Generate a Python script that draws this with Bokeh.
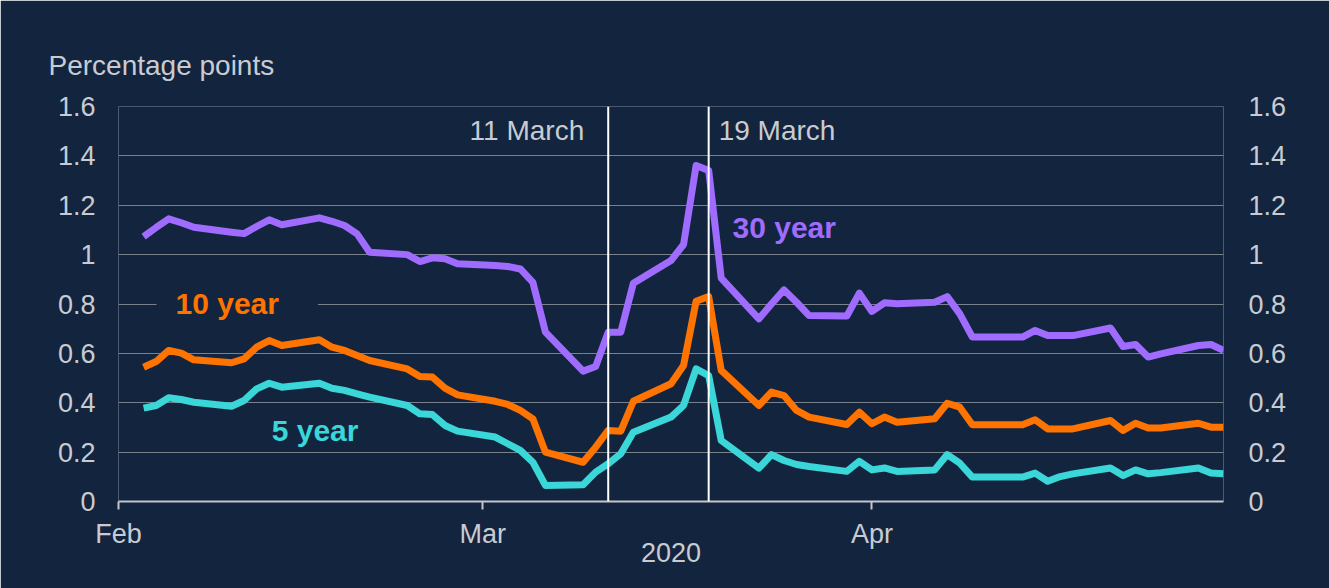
import pandas as pd
from bokeh.plotting import figure
from bokeh.models import FixedTicker, LinearAxis, Span, Label, Range1d, Title
from bokeh.embed import file_html
from bokeh.resources import INLINE

# ---- data -------------------------------------------------------------
# Every weekday from 3 Feb to 29 Apr 2020 (bank holidays carry the prior value)
dates = pd.bdate_range("2020-02-03", "2020-04-29")

year30 = [
    1.073, 1.110, 1.145, 1.129, 1.111, 1.091, 1.085, 1.114, 1.141, 1.121,
    1.149, 1.135, 1.118, 1.084, 1.010, 1.000, 0.972, 0.987, 0.983, 0.963,
    0.956, 0.952, 0.942, 0.888, 0.686, 0.528, 0.547, 0.686, 0.686, 0.884,
    0.976, 1.041, 1.361, 1.341, 0.905, 0.740, 0.800, 0.857, 0.807, 0.753,
    0.751, 0.844,
    0.770, 0.805, 0.801, 0.807, 0.830, 0.760, 0.666, 0.666, 0.666, 0.693,
    0.672, 0.672, 0.672, 0.703, 0.628, 0.636, 0.585, 0.598, 0.632, 0.636,
    0.612,
]
year10 = [
    0.544, 0.567, 0.612, 0.601, 0.574, 0.562, 0.578, 0.625, 0.652, 0.632,
    0.655, 0.625, 0.612, 0.591, 0.571, 0.537, 0.506, 0.504, 0.459, 0.432,
    0.406, 0.393, 0.369, 0.335, 0.200, 0.159, 0.220, 0.288, 0.285, 0.406,
    0.477, 0.551, 0.811, 0.830, 0.531, 0.389, 0.443, 0.429, 0.369, 0.342,
    0.312, 0.362,
    0.315, 0.342, 0.321, 0.335, 0.398, 0.382, 0.311, 0.311, 0.311, 0.331,
    0.294, 0.294, 0.294, 0.328, 0.288, 0.317, 0.298, 0.298, 0.317, 0.301,
    0.301,
]
year5 = [
    0.378, 0.389, 0.420, 0.413, 0.402, 0.386, 0.409, 0.456, 0.479, 0.463,
    0.479, 0.459, 0.450, 0.436, 0.423, 0.389, 0.355, 0.352, 0.308, 0.285,
    0.261, 0.234, 0.207, 0.159, 0.065, 0.068, 0.119, 0.153, 0.193, 0.281,
    0.342, 0.389, 0.537, 0.510, 0.247, 0.135, 0.190, 0.166, 0.150, 0.142,
    0.122, 0.163,
    0.128, 0.136, 0.122, 0.128, 0.190, 0.155, 0.099, 0.099, 0.099, 0.115,
    0.082, 0.101, 0.112, 0.136, 0.105, 0.128, 0.112, 0.117, 0.136, 0.115,
    0.112,
]

series_names = ["30 year", "10 year", "5 year"]
series_values = [year30, year10, year5]

month_ticks = ["2020-02-01", "2020-03-01", "2020-04-01"]
month_labels = ["Feb", "Mar", "Apr"]

y_ticks = [0, 0.2, 0.4, 0.6, 0.8, 1.0, 1.2, 1.4, 1.6]
y_tick_labels = ["0", "0.2", "0.4", "0.6", "0.8", "1", "1.2", "1.4", "1.6"]

event_dates = ["2020-03-11", "2020-03-19"]
event_labels = ["11 March", "19 March"]

# ---- style ------------------------------------------------------------
BG = "#13253e"
TXT = "#c8ccd2"
GRID = "#7b818b"
AXIS = "#c3c6cc"
FONT = "Liberation Sans"
COLORS = ["#a06cff", "#ff7300", "#3ad6d8"]


def ms(t):
    return pd.Timestamp(t).value / 1e6


DAY = 86400000.0
x_origin = ms("2020-02-01")

p = figure(
    width=1329, height=588,
    x_axis_type="datetime",
    x_range=Range1d(ms("2020-02-01"), ms("2020-04-29")),
    y_range=Range1d(0, 1.6),
    output_backend="svg", toolbar_location=None,
    min_border_left=118, min_border_right=106,
    min_border_top=106, min_border_bottom=87,
    background_fill_color=BG, border_fill_color=BG,
    outline_line_color=None,
)

# unit caption above the plot area
p.add_layout(Title(
    text="Percentage points", align="left", offset=-70, standoff=52,
    text_font=FONT, text_font_size="28px", text_font_style="normal",
    text_color=TXT,
), "above")

# horizontal grid only
p.xgrid.grid_line_color = None
p.ygrid.ticker = FixedTicker(ticks=y_ticks)
p.ygrid.grid_line_color = GRID
p.ygrid.grid_line_width = 1

# x axis: month ticks and the year underneath
xax = p.xaxis[0]
xax.ticker = FixedTicker(ticks=[ms(t) for t in month_ticks])
xax.major_label_overrides = {ms(t): lab for t, lab in zip(month_ticks, month_labels)}
xax.axis_line_color = AXIS
xax.axis_line_width = 2
xax.major_tick_line_color = AXIS
xax.major_tick_line_width = 2
xax.major_tick_in = 0
xax.major_tick_out = 8
xax.minor_tick_line_color = None
xax.major_label_standoff = 9
xax.major_label_text_font = FONT
xax.major_label_text_font_size = "27px"
xax.major_label_text_color = TXT
xax.axis_label = "2020"
xax.axis_label_text_font = FONT
xax.axis_label_text_font_size = "27px"
xax.axis_label_text_font_style = "normal"
xax.axis_label_text_color = TXT
xax.axis_label_standoff = -9


def style_y(ax, standoff):
    ax.ticker = FixedTicker(ticks=y_ticks)
    ax.major_label_overrides = {float(v): s for v, s in zip(y_ticks, y_tick_labels)}
    ax.axis_line_color = None
    ax.major_tick_line_color = None
    ax.minor_tick_line_color = None
    ax.major_label_standoff = standoff
    ax.major_label_text_font = FONT
    ax.major_label_text_font_size = "27px"
    ax.major_label_text_color = TXT


style_y(p.yaxis[0], 17)
right_ax = LinearAxis()
style_y(right_ax, 19)
p.add_layout(right_ax, "right")

# series lines
for vals, col in zip(series_values, COLORS):
    p.line(x=list(dates), y=vals, line_color=col, line_width=7,
           line_join="round")

# event markers
for d, lab, side in zip(event_dates, event_labels, ["right", "left"]):
    p.add_layout(Span(location=ms(d), dimension="height",
                      line_color="#ffffff", line_width=2))
    p.add_layout(Label(
        x=ms(d), y=1.503, text=lab,
        x_offset=-24 if side == "right" else 10,
        text_align=side, text_baseline="alphabetic",
        text_font=FONT, text_font_size="28px", text_color=TXT,
    ))

# series name labels (day offset from 1 Feb, baseline value)
name_pos = [(48.9, 1.110), (3.03, 0.795), (12.2, 0.287)]
for name, col, (dx, yv) in zip(series_names, COLORS, name_pos):
    kw = {}
    if name == "10 year":
        kw = dict(background_fill_color=BG,
                  padding=dict(left=19, right=39, top=2, bottom=6))
    p.add_layout(Label(
        x=x_origin + dx * DAY, y=yv, text=name,
        text_baseline="alphabetic", text_font=FONT, text_font_size="30px",
        text_font_style="bold", text_color=col, **kw,
    ))

open("out.html", "w").write(file_html(p, INLINE))
